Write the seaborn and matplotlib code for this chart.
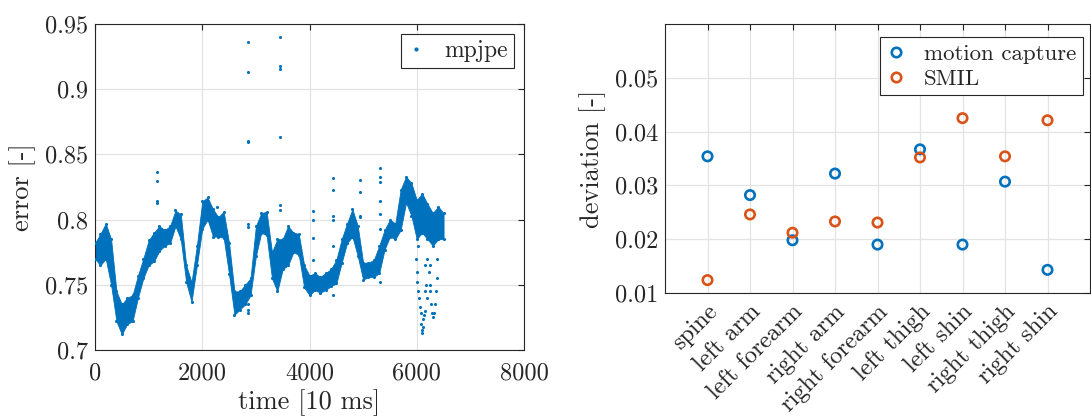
import numpy as np
import pandas as pd
import matplotlib
matplotlib.use("Agg")
import matplotlib.pyplot as plt
from matplotlib.lines import Line2D
from matplotlib.transforms import ScaledTranslation
import seaborn as sns

# ---------------- data ----------------
# left panel: band of the mpjpe error, sampled every 100 time steps
time_steps = [0, 100, 200, 300, 400, 500, 600, 700, 800, 900,
              1000, 1100, 1200, 1300, 1400, 1500, 1600, 1700, 1800, 1900,
              2000, 2100, 2200, 2300, 2400, 2500, 2600, 2700, 2800, 2900,
              3000, 3100, 3200, 3300, 3400, 3500, 3600, 3700, 3800, 3900,
              4000, 4100, 4200, 4300, 4400, 4500, 4600, 4700, 4800, 4900,
              5000, 5100, 5200, 5300, 5400, 5500, 5600, 5700, 5800, 5900,
              6000, 6100, 6200, 6300, 6400, 6500]
error_low = [0.770, 0.765, 0.770, 0.750, 0.722, 0.712, 0.720, 0.722, 0.740, 0.755,
             0.765, 0.768, 0.776, 0.780, 0.782, 0.795, 0.785, 0.752, 0.737, 0.765,
             0.793, 0.800, 0.787, 0.787, 0.786, 0.758, 0.727, 0.731, 0.735, 0.742,
             0.772, 0.790, 0.788, 0.755, 0.745, 0.762, 0.765, 0.775, 0.773, 0.748,
             0.742, 0.746, 0.744, 0.746, 0.749, 0.751, 0.767, 0.782, 0.787, 0.772,
             0.754, 0.756, 0.756, 0.759, 0.777, 0.787, 0.785, 0.792, 0.813, 0.803,
             0.785, 0.790, 0.785, 0.780, 0.785, 0.785]
error_high = [0.782, 0.789, 0.797, 0.785, 0.745, 0.735, 0.740, 0.742, 0.757, 0.770,
              0.784, 0.790, 0.795, 0.792, 0.795, 0.807, 0.804, 0.765, 0.752, 0.780,
              0.814, 0.817, 0.808, 0.802, 0.806, 0.782, 0.745, 0.745, 0.750, 0.755,
              0.795, 0.805, 0.806, 0.775, 0.785, 0.785, 0.795, 0.790, 0.789, 0.765,
              0.757, 0.759, 0.756, 0.759, 0.762, 0.769, 0.785, 0.797, 0.808, 0.795,
              0.767, 0.767, 0.769, 0.780, 0.792, 0.800, 0.797, 0.823, 0.833, 0.828,
              0.815, 0.820, 0.812, 0.805, 0.810, 0.805]

# isolated points (outliers and the two low tails near the end)
scatter_time = [1148, 1148, 1148, 1148,
                2269,
                2862, 2862, 2862, 2862, 2862, 2862, 2862, 2862, 2862,
                3449, 3449, 3449, 3449, 3449, 3449,
                4057, 4057, 4057, 4057,
                4430, 4430, 4430, 4430, 4430, 4430,
                4937, 4937, 4937, 4937,
                5318, 5318, 5318, 5318, 5318, 5318, 5318,
                5990, 6000, 6010, 6030, 6050, 6060, 6070, 6080, 6090, 6100,
                6110, 6120, 6130, 6150,
                6200, 6220, 6240, 6250, 6270, 6290, 6300, 6320, 6340, 6360,
                6370, 6380, 6390,
                6030, 6150, 6160, 6180, 6200, 6240]
scatter_error = [0.8368, 0.8294, 0.8140, 0.8128,
                 0.8097,
                 0.9360, 0.9134, 0.8593, 0.8600, 0.7970, 0.7940, 0.7356, 0.7310, 0.7280,
                 0.9398, 0.9175, 0.9155, 0.8631, 0.8110, 0.8077,
                 0.8064, 0.7997, 0.7857, 0.7693,
                 0.8320, 0.8227, 0.8030, 0.8000, 0.7796, 0.7420,
                 0.8300, 0.8215, 0.8030, 0.8020,
                 0.8396, 0.8327, 0.8286, 0.8143, 0.8043, 0.7928, 0.7520,
                 0.770, 0.760, 0.752, 0.745, 0.740, 0.733, 0.728, 0.720, 0.715, 0.713,
                 0.718, 0.724, 0.727, 0.730,
                 0.770, 0.760, 0.750, 0.745, 0.735, 0.728, 0.725, 0.728, 0.735, 0.745,
                 0.755, 0.770, 0.785,
                 0.780, 0.765, 0.745, 0.750, 0.740, 0.765]

x_ticks_left = [0, 2000, 4000, 6000, 8000]
y_ticks_left = [0.7, 0.75, 0.8, 0.85, 0.9, 0.95]
y_ticklabels_left = ["0.7", "0.75", "0.8", "0.85", "0.9", "0.95"]

# right panel
body_parts = ["spine", "left arm", "left forearm", "right arm", "right forearm",
              "left thigh", "left shin", "right thigh", "right shin"]
motion_capture = [0.0354, 0.0282, 0.0198, 0.0322, 0.0190, 0.0367, 0.0190, 0.0307, 0.0143]
smil = [0.0124, 0.0246, 0.0212, 0.0233, 0.0231, 0.0352, 0.0425, 0.0354, 0.0421]
y_ticks_right = [0.01, 0.02, 0.03, 0.04, 0.05]
y_ticklabels_right = ["0.01", "0.02", "0.03", "0.04", "0.05"]

# ---------------- style ----------------
sns.set_theme(style="white")
plt.rcParams.update({
    "font.family": "serif",
    "font.serif": ["cmr10"],
    "mathtext.fontset": "cm",
    "axes.formatter.use_mathtext": True,
    "axes.unicode_minus": False,
    "axes.edgecolor": "#262626",
    "axes.linewidth": 0.8,
    "xtick.color": "#262626",
    "ytick.color": "#262626",
    "text.color": "#262626",
    "axes.labelcolor": "#262626",
})

BLUE = "#0072BD"
ORANGE = "#D95319"
GRID = "#E3E3E3"
TICK_FS = 17.5
LABEL_FS = 19
LEG_FS = 16.5

W, H = 1091, 419
fig = plt.figure(figsize=(W / 100, H / 100), dpi=100)

ax1 = fig.add_axes([95 / W, 1 - 350 / H, (524 - 95) / W, (350 - 24) / H])
ax2 = fig.add_axes([665 / W, 1 - 293 / H, (1090 - 665) / W, (293 - 24) / H])

# ---------------- left panel ----------------
band = pd.DataFrame({"time": time_steps, "low": error_low, "high": error_high})
pts = pd.DataFrame({"time": scatter_time, "error": scatter_error})

ax1.fill_between(band["time"], band["low"], band["high"], color=BLUE, linewidth=0.6,
                 edgecolor=BLUE, zorder=2)
sns.scatterplot(data=band, x="time", y="low", ax=ax1, color=BLUE, s=5,
                linewidth=0, legend=False, zorder=3)
sns.scatterplot(data=band, x="time", y="high", ax=ax1, color=BLUE, s=5,
                linewidth=0, legend=False, zorder=3)
sns.scatterplot(data=pts, x="time", y="error", ax=ax1, color=BLUE, s=5,
                linewidth=0, legend=False, zorder=3)

ax1.set_xlim(0, 8000)
ax1.set_ylim(0.7, 0.95)
ax1.set_xticks(x_ticks_left)
ax1.set_xticklabels([str(v) for v in x_ticks_left])
ax1.set_yticks(y_ticks_left)
ax1.set_yticklabels(y_ticklabels_left)
ax1.set_xlabel("time [10 ms]", fontsize=LABEL_FS, labelpad=3)
ax1.set_ylabel("error [-]", fontsize=LABEL_FS, labelpad=6)
ax1.grid(True, color=GRID, linewidth=0.9, zorder=0)
ax1.set_axisbelow(True)

h1 = [Line2D([], [], marker=".", linestyle="none", color=BLUE, markersize=4)]
leg1 = ax1.legend(h1, ["mpjpe"], loc="upper right",
                  bbox_to_anchor=((514 - 95) / (524 - 95), 1 - (34 - 24) / (350 - 24)),
                  fontsize=LEG_FS + 0.5, frameon=True, fancybox=False, framealpha=1,
                  borderaxespad=0, handlelength=0.8, handletextpad=0.8, borderpad=0.25)
leg1.get_frame().set_edgecolor("#262626")
leg1.get_frame().set_linewidth(0.8)

# ---------------- right panel ----------------
positions = list(range(1, len(body_parts) + 1))
dev = pd.DataFrame({"pos": positions, "mocap": motion_capture, "smil": smil})
sns.scatterplot(data=dev, x="pos", y="mocap", ax=ax2, color=BLUE, s=46,
                legend=False, zorder=3)
sns.scatterplot(data=dev, x="pos", y="smil", ax=ax2, color=ORANGE, s=46,
                legend=False, zorder=3)
for coll, c in zip(ax2.collections, [BLUE, ORANGE]):
    coll.set_facecolor("none")
    coll.set_edgecolor(c)
    coll.set_linewidth(1.9)

ax2.set_xlim(0, 10)
ax2.set_ylim(0.01, 0.06)
ax2.set_xticks(positions)
ax2.set_xticklabels(body_parts, rotation=45, ha="right", va="center",
                    rotation_mode="anchor")
ax2.set_yticks(y_ticks_right)
ax2.set_yticklabels(y_ticklabels_right)
ax2.set_xlabel("")
ax2.set_ylabel("deviation [-]", fontsize=LABEL_FS, labelpad=6)
ax2.grid(True, color=GRID, linewidth=0.9, zorder=0)
ax2.set_axisbelow(True)

h2 = [Line2D([], [], marker="o", linestyle="none", markerfacecolor="none",
             markeredgecolor=BLUE, markeredgewidth=1.9, markersize=6.8),
      Line2D([], [], marker="o", linestyle="none", markerfacecolor="none",
             markeredgecolor=ORANGE, markeredgewidth=1.9, markersize=6.8)]
leg2 = ax2.legend(h2, ["motion capture", "SMIL"], loc="upper right",
                  bbox_to_anchor=((1083 - 665) / (1090 - 665), 1 - (37 - 24) / (293 - 24)),
                  fontsize=LEG_FS, frameon=True, fancybox=False, framealpha=1,
                  borderaxespad=0, handlelength=0.8, handletextpad=0.8,
                  borderpad=0.3, labelspacing=0.2)
leg2.get_frame().set_edgecolor("#262626")
leg2.get_frame().set_linewidth(0.8)

for ax in (ax1, ax2):
    ax.tick_params(axis="both", which="both", direction="in", length=4, width=0.8,
                   top=True, right=True, labelsize=TICK_FS)
    ax.tick_params(axis="y", pad=5)
    for sp in ax.spines.values():
        sp.set_visible(True)
        sp.set_color("#262626")
        sp.set_linewidth(0.8)
ax1.tick_params(axis="x", pad=9)
ax2.tick_params(axis="x", pad=11)

offset = ScaledTranslation(7 / 100, 0, fig.dpi_scale_trans)
for lab in ax2.get_xticklabels():
    lab.set_transform(lab.get_transform() + offset)

fig.savefig("out.png", dpi=100)
